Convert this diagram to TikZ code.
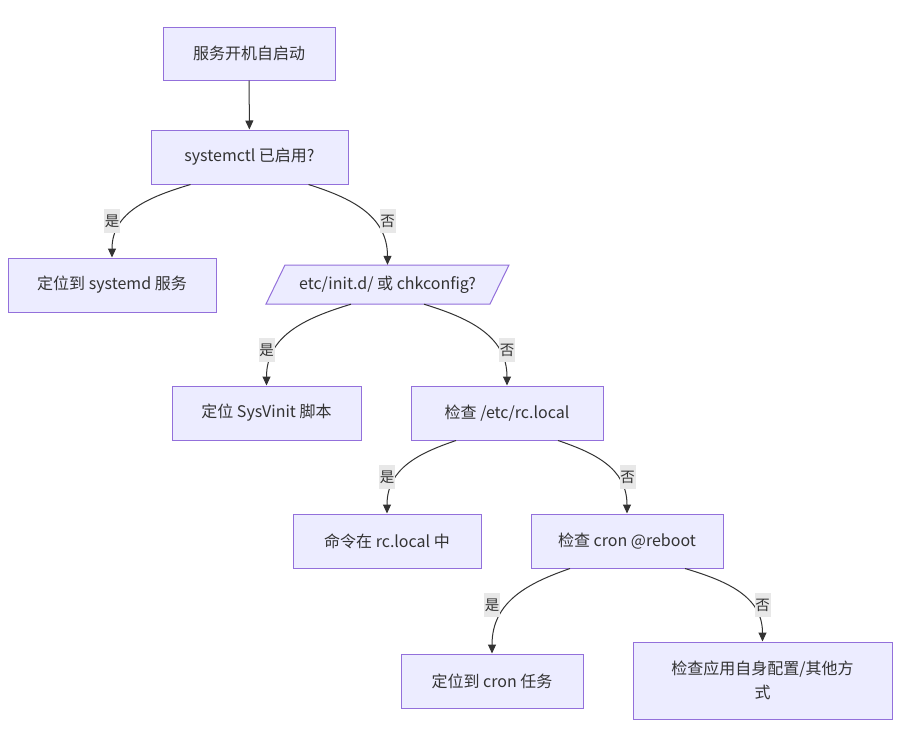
\documentclass[tikz,border=0pt]{standalone}
\usepackage{fontspec}
\setmainfont{Noto Sans CJK SC}
\usetikzlibrary{arrows.meta}
\definecolor{boxfill}{HTML}{ECECFF}
\definecolor{boxline}{HTML}{9370DB}
\definecolor{edgec}{HTML}{333333}
\definecolor{lblfill}{HTML}{E8E8E8}
\begin{document}
\begin{tikzpicture}[x=1pt,y=-1pt,
  box/.style={draw=boxline, fill=boxfill, line width=1pt, text=edgec,
    font=\fontsize{16}{24}\selectfont, inner sep=0pt, align=center},
  boxshape/.style={draw=boxline, fill=boxfill, line width=1pt},
  plaintext/.style={text=edgec, font=\fontsize{16}{24}\selectfont, inner sep=0pt, align=center},
  edge/.style={draw=edgec, line width=1pt, -{Triangle[length=9pt,width=8pt]}},
  lbl/.style={fill=lblfill, text=edgec, font=\fontsize{14.5}{16}\selectfont,
    inner sep=0pt, minimum width=16pt, minimum height=24pt}]
\useasboundingbox[fill=white] (0,0) rectangle (907,747);

% nodes
\node[box, minimum width=172, minimum height=53] (n1) at (249,53.5) {服务开机自启动};
\node[box, minimum width=197, minimum height=54] (n2) at (249.5,157) {systemctl 已启用?};
\node[box, minimum width=208, minimum height=54] (n3) at (112,285) {定位到 systemd 服务};
\coordinate (c4) at (387.5,284.5);
\draw[boxshape] ([shift={(-102.5,-19.5)}]c4) -- ([shift={(121.5,-19.5)}]c4)
  -- ([shift={(102.5,19.5)}]c4) -- ([shift={(-121.5,19.5)}]c4) -- cycle;
\node[plaintext, minimum width=200, minimum height=39] (n4) at (c4) {etc/init.d/ 或 chkconfig?};
\node[box, minimum width=189, minimum height=54] (n5) at (266.5,413) {定位 SysVinit 脚本};
\node[box, minimum width=192, minimum height=54] (n6) at (507,413) {检查 /etc/rc.local};
\node[box, minimum width=188, minimum height=54] (n7) at (387,541) {命令在 rc.local 中};
\node[box, minimum width=192, minimum height=54] (n8) at (627,541) {检查 cron @reboot};
\node[box, minimum width=182, minimum height=54] (n9) at (492,681) {定位到 cron 任务};
\node[box, minimum width=259, minimum height=77] (n10) at (762.5,680.5) {检查应用自身配置/其他方\\式};

% edges
\draw[edge] (n1) -- (n2);
\draw[edge] ([xshift=-59pt]n2.south) .. controls +(-40,12) and +(0,-46) .. (n3.north);
\draw[edge] ([xshift=59pt]n2.south) .. controls +(41,13) and +(0,-50) .. (n4.north);
\draw[edge] ([xshift=-36.5pt]n4.south) .. controls +(-43,13) and +(0,-51) .. (n5.north);
\draw[edge] ([xshift=36.5pt]n4.south) .. controls +(42,13) and +(0,-51) .. (n6.north);
\draw[edge] ([xshift=-51pt]n6.south) .. controls +(-35,12) and +(0,-46) .. (n7.north);
\draw[edge] ([xshift=51pt]n6.south) .. controls +(35,12) and +(0,-46) .. (n8.north);
\draw[edge] ([xshift=-57pt]n8.south) .. controls +(-40,14) and +(0,-53) .. (n9.north);
\draw[edge] ([xshift=58pt]n8.south) .. controls +(40,12) and +(0,-46) .. (n10.north);

% edge labels
\node[lbl] (t1) at (112,221) {是};
\node[lbl] (t2) at (387.5,221) {否};
\node[lbl] (t3) at (266.5,350) {是};
\node[lbl] (t4) at (507,350) {否};
\node[lbl] (t5) at (387,477) {是};
\node[lbl] (t6) at (627.5,477) {否};
\node[lbl] (t7) at (492,605) {是};
\node[lbl] (t8) at (762.5,605) {否};
\end{tikzpicture}
\end{document}
